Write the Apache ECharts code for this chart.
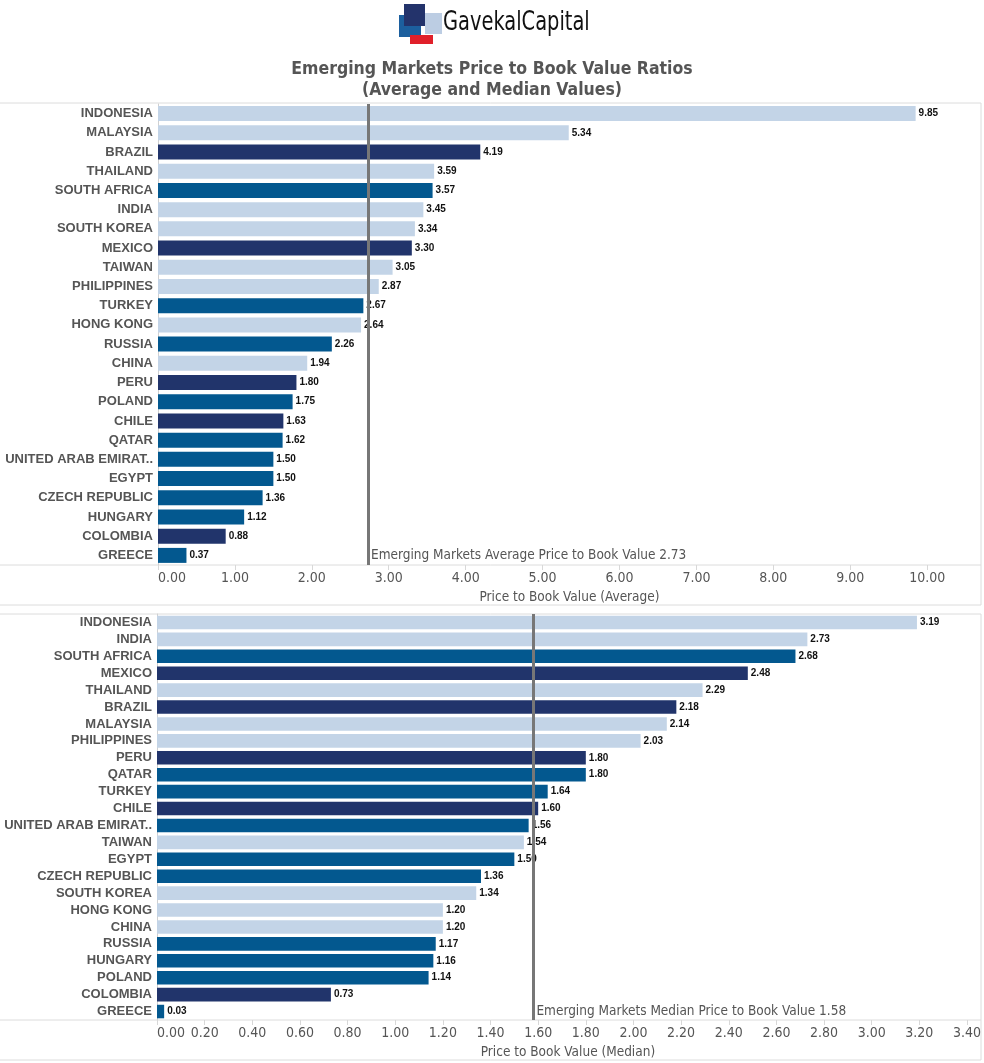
<!DOCTYPE html>
<html>
<head>
<meta charset="utf-8">
<title>Emerging Markets Price to Book Value Ratios</title>
<script src="https://cdn.jsdelivr.net/npm/echarts@6/dist/echarts.min.js"></script>
<style>
  html, body { margin: 0; padding: 0; background: #fff; }
  #chart { width: 984px; height: 1063px; }
</style>
</head>
<body>
<div id="chart"></div>
<script>
// average P/B, sorted as in the source
const avgCountries = ['INDONESIA', 'MALAYSIA', 'BRAZIL', 'THAILAND', 'SOUTH AFRICA', 'INDIA', 'SOUTH KOREA', 'MEXICO',
  'TAIWAN', 'PHILIPPINES', 'TURKEY', 'HONG KONG', 'RUSSIA', 'CHINA', 'PERU', 'POLAND', 'CHILE', 'QATAR',
  'UNITED ARAB EMIRAT..', 'EGYPT', 'CZECH REPUBLIC', 'HUNGARY', 'COLOMBIA', 'GREECE']
const avgValues = [9.85, 5.34, 4.19, 3.59, 3.57, 3.45, 3.34, 3.30, 3.05, 2.87, 2.67, 2.64, 2.26, 1.94, 1.80, 1.75,
  1.63, 1.62, 1.50, 1.50, 1.36, 1.12, 0.88, 0.37]
const avgOverall = 2.73

// median P/B
const medCountries = ['INDONESIA', 'INDIA', 'SOUTH AFRICA', 'MEXICO', 'THAILAND', 'BRAZIL', 'MALAYSIA', 'PHILIPPINES',
  'PERU', 'QATAR', 'TURKEY', 'CHILE', 'UNITED ARAB EMIRAT..', 'TAIWAN', 'EGYPT', 'CZECH REPUBLIC', 'SOUTH KOREA',
  'HONG KONG', 'CHINA', 'RUSSIA', 'HUNGARY', 'POLAND', 'COLOMBIA', 'GREECE']
const medValues = [3.19, 2.73, 2.68, 2.48, 2.29, 2.18, 2.14, 2.03, 1.80, 1.80, 1.64, 1.60, 1.56, 1.54, 1.50, 1.36,
  1.34, 1.20, 1.20, 1.17, 1.16, 1.14, 0.73, 0.03]
const medOverall = 1.58

// region groups decide bar colour
const asia = ['INDONESIA', 'MALAYSIA', 'THAILAND', 'INDIA', 'SOUTH KOREA', 'TAIWAN', 'PHILIPPINES', 'HONG KONG', 'CHINA']
const latam = ['BRAZIL', 'MEXICO', 'PERU', 'CHILE', 'COLOMBIA']
const regionColor = { asia: '#c3d4e7', latam: '#21346b', emea: '#03588f' }

const colorOf = (name) => {
  if (asia.includes(name)) return regionColor.asia
  if (latam.includes(name)) return regionColor.latam
  return regionColor.emea
}

const narrow = '"Liberation Sans Narrow", "DejaVu Sans Condensed", Arial, sans-serif'
const gray = '#555'
const rule = '#dcdcdc'

const makeData = (names, values) => values.map((v, i) => ({ value: v, itemStyle: { color: colorOf(names[i]) } }))

const hline = (y) => ({ type: 'line', shape: { x1: 0, y1: y, x2: 981, y2: y }, style: { stroke: rule, lineWidth: 1 }, silent: true })
const vline = (x, y1, y2) => ({ type: 'line', shape: { x1: x, y1: y1, x2: x, y2: y2 }, style: { stroke: rule, lineWidth: 1 }, silent: true })

const xAxisBase = (gridIndex, max, interval, name) => ({
  type: 'value',
  gridIndex,
  min: 0,
  max,
  interval,
  name,
  nameLocation: 'middle',
  nameGap: 25,
  nameTextStyle: { color: gray, fontSize: 13.5, fontFamily: narrow },
  splitLine: { show: false },
  axisLine: { show: false },
  axisTick: { show: true, length: 5, lineStyle: { color: '#d8d8d8' } },
  axisLabel: {
    color: gray,
    fontSize: 14,
    fontFamily: narrow,
    margin: 6,
    showMaxLabel: false,
    alignMinLabel: 'left',
    formatter: (v) => v.toFixed(2),
  },
})

const yAxisBase = (gridIndex, names) => ({
  type: 'category',
  gridIndex,
  data: names,
  inverse: true,
  axisLine: { show: true, lineStyle: { color: '#d0d0d0' } },
  axisTick: { show: false },
  axisLabel: { color: gray, fontSize: 13, fontWeight: 'bold', fontFamily: '"Liberation Sans", Arial, sans-serif', margin: 5 },
})

const barSeries = (idx, names, values, overall, text, gap) => ({
  type: 'bar',
  xAxisIndex: idx,
  yAxisIndex: idx,
  data: makeData(names, values),
  barCategoryGap: gap,
  label: {
    show: true,
    position: 'right',
    distance: 3,
    color: '#111',
    fontSize: 10,
    fontWeight: 'bold',
    fontFamily: '"Liberation Sans", Arial, sans-serif',
    formatter: (p) => p.value.toFixed(2),
  },
  markLine: {
    silent: true,
    symbol: 'none',
    label: { show: false },
    lineStyle: { color: '#777', width: 3, type: 'solid' },
    data: [{ xAxis: overall }],
  },
  markPoint: {
    silent: true,
    symbolSize: 0,
    label: {
      show: true,
      position: 'right',
      distance: 3,
      color: gray,
      fontSize: 13.5,
      fontFamily: narrow,
      formatter: text + ' ' + overall.toFixed(2),
    },
    data: [{ coord: [overall, names[names.length - 1]] }],
  },
})

const chart = echarts.init(document.getElementById('chart'))

chart.setOption({
  backgroundColor: '#fff',
  animation: false,
  title: {
    text: 'Emerging Markets Price to Book Value Ratios\n(Average and Median Values)',
    left: 'center',
    top: 54,
    textStyle: { color: gray, fontSize: 17.5, fontWeight: 'bold', fontFamily: narrow, lineHeight: 21 },
  },
  grid: [
    { left: 158, right: 3, top: 104, height: 461, containLabel: false },
    { left: 157, right: 3, top: 614, height: 406, containLabel: false },
  ],
  xAxis: [
    xAxisBase(0, 10.7, 1, 'Price to Book Value (Average)'),
    xAxisBase(1, 3.45, 0.2, 'Price to Book Value (Median)'),
  ],
  yAxis: [yAxisBase(0, avgCountries), yAxisBase(1, medCountries)],
  series: [
    barSeries(0, avgCountries, avgValues, avgOverall, 'Emerging Markets Average Price to Book Value', '22%'),
    barSeries(1, medCountries, medValues, medOverall, 'Emerging Markets Median Price to Book Value', '20%'),
  ],
  graphic: [
    // panel rules
    hline(103), hline(565), hline(605), hline(614), hline(1020), hline(1060),
    vline(981, 103, 605), vline(981, 614, 1060),
    // logo
    { type: 'rect', shape: { x: 399, y: 15, width: 22, height: 22 }, style: { fill: '#1c5f9e' } },
    { type: 'rect', shape: { x: 410, y: 35, width: 23, height: 9 }, style: { fill: '#e0202a' } },
    { type: 'rect', shape: { x: 425, y: 13, width: 17, height: 21 }, style: { fill: '#bccde3' } },
    { type: 'rect', shape: { x: 404, y: 4, width: 21, height: 22 }, style: { fill: '#23336b' } },
    {
      type: 'text',
      x: 443,
      y: 9,
      scaleX: 0.8,
      style: { text: 'GavekalCapital', fill: '#111', fontSize: 27, fontFamily: narrow },
    },
  ],
})
</script>
</body>
</html>
